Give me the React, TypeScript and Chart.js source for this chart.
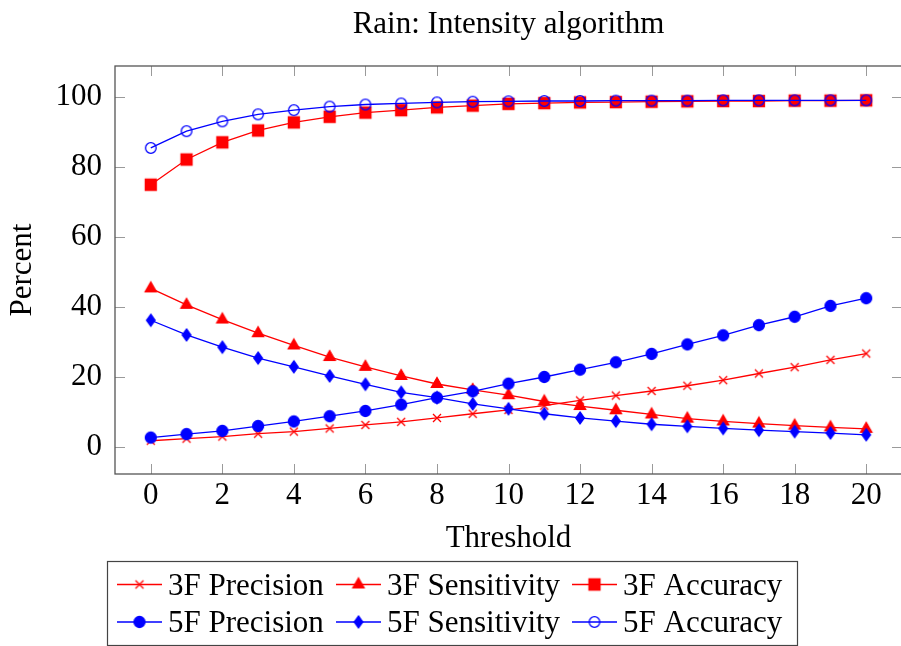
import React, { useEffect, useRef } from 'react';
import { Chart, registerables } from 'chart.js';

Chart.register(...registerables);

const thresholds = [0, 1, 2, 3, 4, 5, 6, 7, 8, 9, 10, 11, 12, 13, 14, 15, 16, 17, 18, 19, 20];
const xTickValues = [0, 2, 4, 6, 8, 10, 12, 14, 16, 18, 20];
const yTickValues = [0, 20, 40, 60, 80, 100];

const precision3F = [1.8, 2.4, 3.0, 3.8, 4.4, 5.3, 6.3, 7.2, 8.3, 9.5, 10.6, 11.8, 13.3, 14.7, 16.0, 17.5, 19.1, 21.0, 22.8, 24.9, 26.7];
const sensitivity3F = [45.3, 40.6, 36.4, 32.5, 29.0, 25.7, 22.9, 20.3, 18.0, 16.3, 14.8, 13.0, 11.7, 10.5, 9.3, 8.1, 7.3, 6.7, 6.1, 5.6, 5.2];
const accuracy3F = [74.9, 82.1, 87.0, 90.4, 92.7, 94.3, 95.5, 96.2, 97.0, 97.5, 98.0, 98.2, 98.4, 98.5, 98.6, 98.7, 98.8, 98.8, 98.9, 98.9, 99.0];
const precision5F = [2.7, 3.7, 4.6, 6.0, 7.3, 8.8, 10.3, 12.1, 14.1, 15.9, 18.1, 20.0, 22.1, 24.2, 26.6, 29.3, 31.9, 34.8, 37.2, 40.3, 42.5];
const sensitivity5F = [36.2, 32.0, 28.5, 25.4, 22.9, 20.3, 17.9, 15.6, 14.1, 12.3, 10.9, 9.5, 8.3, 7.4, 6.5, 5.9, 5.3, 4.8, 4.4, 4.0, 3.5];
const accuracy5F = [85.4, 90.2, 93.0, 95.0, 96.2, 97.2, 97.8, 98.1, 98.4, 98.6, 98.7, 98.8, 98.8, 98.9, 98.9, 98.9, 99.0, 99.0, 99.0, 99.0, 99.0];

const seriesLabels = ['3F Precision', '3F Sensitivity', '3F Accuracy', '5F Precision', '5F Sensitivity', '5F Accuracy'];
const seriesValues = [precision3F, sensitivity3F, accuracy3F, precision5F, sensitivity5F, accuracy5F];
const seriesMarks = ['cross', 'triangle', 'square', 'disc', 'diamond', 'ring'];
const seriesColors = ['#ff0000', '#ff0000', '#ff0000', '#0000ff', '#0000ff', '#0000ff'];

const TITLE = 'Rain: Intensity algorithm';
const X_TITLE = 'Threshold';
const Y_TITLE = 'Percent';
const FONT = "'Liberation Serif', 'Times New Roman', serif";
const FS = 31;

function makeMarker(kind: string, color: string): HTMLCanvasElement {
  const cv = document.createElement('canvas');
  cv.width = 18;
  cv.height = 18;
  const g = cv.getContext('2d')!;
  const c = 9;
  g.fillStyle = color;
  g.strokeStyle = color;
  g.lineWidth = 1.3;
  g.beginPath();
  if (kind === 'cross') {
    g.moveTo(c - 4, c - 4); g.lineTo(c + 4, c + 4);
    g.moveTo(c + 4, c - 4); g.lineTo(c - 4, c + 4);
    g.stroke();
  } else if (kind === 'triangle') {
    const r = 6.5;
    g.moveTo(c, c - r);
    g.lineTo(c + r * 0.866, c + r / 2);
    g.lineTo(c - r * 0.866, c + r / 2);
    g.closePath();
    g.fill(); g.stroke();
  } else if (kind === 'square') {
    g.rect(c - 5.5, c - 5.5, 11, 11);
    g.fill(); g.stroke();
  } else if (kind === 'disc') {
    g.arc(c, c, 5.5, 0, Math.PI * 2);
    g.fill(); g.stroke();
  } else if (kind === 'diamond') {
    g.moveTo(c, c - 6); g.lineTo(c + 4.3, c); g.lineTo(c, c + 6); g.lineTo(c - 4.3, c);
    g.closePath();
    g.fill(); g.stroke();
  } else {
    g.arc(c, c, 5.3, 0, Math.PI * 2);
    g.stroke();
  }
  return cv;
}

export default function App() {
  const ref = useRef<HTMLCanvasElement | null>(null);

  useEffect(() => {
    if (!ref.current) return;
    const markers = seriesMarks.map((m, i) => makeMarker(m, seriesColors[i]));

    const framePlugin = {
      id: 'pgfFrame',
      beforeDatasetsDraw(chart: any) {
        const { ctx, chartArea: a, scales } = chart;
        ctx.save();
        ctx.strokeStyle = '#9a9a9a';
        ctx.lineWidth = 1;
        const tl = 10;
        xTickValues.forEach((v) => {
          const px = Math.round(scales.x.getPixelForValue(v)) + 0.5;
          ctx.beginPath();
          ctx.moveTo(px, a.bottom); ctx.lineTo(px, a.bottom - tl);
          ctx.moveTo(px, a.top); ctx.lineTo(px, a.top + tl);
          ctx.stroke();
        });
        yTickValues.forEach((v) => {
          const py = Math.round(scales.y.getPixelForValue(v)) + 0.5;
          ctx.beginPath();
          ctx.moveTo(a.left, py); ctx.lineTo(a.left + tl, py);
          ctx.moveTo(a.right, py); ctx.lineTo(a.right - tl, py);
          ctx.stroke();
        });
        ctx.strokeStyle = '#555555';
        ctx.lineWidth = 1.3;
        ctx.strokeRect(a.left, a.top, a.right - a.left, a.bottom - a.top);
        ctx.restore();
      },
      afterDraw(chart: any) {
        const { ctx, chartArea: a } = chart;
        ctx.save();
        ctx.fillStyle = '#000';
        ctx.font = `${FS}px ${FONT}`;
        ctx.textAlign = 'center';
        ctx.textBaseline = 'alphabetic';
        ctx.fillText(TITLE, (a.left + a.right) / 2, 33);

        // legend
        const bx = 107.5, by = 561.5, bw = 690, bh = 84;
        ctx.fillStyle = '#fff';
        ctx.fillRect(bx, by, bw, bh);
        ctx.strokeStyle = '#444';
        ctx.lineWidth = 1.2;
        ctx.strokeRect(bx, by, bw, bh);
        const colX = [117, 336, 572];
        const rowY = [584.5, 622];
        ctx.textAlign = 'left';
        seriesLabels.forEach((lab, i) => {
          const col = i % 3;
          const row = Math.floor(i / 3);
          const x0 = colX[col];
          const y0 = rowY[row];
          ctx.strokeStyle = seriesColors[i];
          ctx.lineWidth = 1.3;
          ctx.beginPath();
          ctx.moveTo(x0, y0); ctx.lineTo(x0 + 45, y0);
          ctx.stroke();
          const m = markers[i];
          ctx.drawImage(m, x0 + 22.5 - m.width / 2, y0 - m.height / 2);
          ctx.fillStyle = '#000';
          ctx.fillText(lab, x0 + 51, y0 + 10);
        });
        ctx.restore();
      },
    };

    const datasets = seriesLabels.map((lab, i) => ({
      label: lab,
      data: thresholds.map((t, k) => ({ x: t, y: seriesValues[i][k] })),
      borderColor: seriesColors[i],
      backgroundColor: seriesColors[i],
      borderWidth: 1.3,
      pointStyle: markers[i],
      pointRadius: 6,
      pointHoverRadius: 6,
      tension: 0,
      fill: false,
      order: seriesLabels.length - i,
    }));

    const chart = new Chart(ref.current, {
      type: 'line',
      data: { datasets },
      plugins: [framePlugin],
      options: {
        animation: false,
        responsive: false,
        devicePixelRatio: 1,
        events: [],
        layout: { padding: { left: 0, right: 18, top: 66, bottom: 82 } },
        plugins: { legend: { display: false }, title: { display: false }, tooltip: { enabled: false } },
        scales: {
          x: {
            type: 'linear',
            min: -1,
            max: 21,
            grid: { display: false, drawTicks: false },
            border: { display: false },
            afterBuildTicks: (s: any) => { s.ticks = xTickValues.map((v) => ({ value: v })); },
            afterFit: (s: any) => { s.height = 90; },
            ticks: { color: '#000', font: { family: FONT, size: FS }, padding: 3, maxRotation: 0, autoSkip: false },
            title: { display: true, text: X_TITLE, color: '#000', font: { family: FONT, size: FS }, padding: { top: 0, bottom: 7 } },
          },
          y: {
            type: 'linear',
            min: -7.7,
            max: 108.8,
            grid: { display: false, drawTicks: false },
            border: { display: false },
            afterBuildTicks: (s: any) => { s.ticks = yTickValues.map((v) => ({ value: v })); },
            afterFit: (s: any) => { s.width = 115; },
            ticks: { color: '#000', font: { family: FONT, size: FS }, padding: 13 },
            title: { display: true, text: Y_TITLE, color: '#000', font: { family: FONT, size: FS }, padding: { top: 4, bottom: 0 } },
          },
        },
      },
    });
    return () => chart.destroy();
  }, []);

  return (
    <div style={{ position: 'fixed', left: 0, top: 0, width: 901, height: 646, overflow: 'hidden', background: '#fff' }}>
      <canvas ref={ref} width={920} height={646} style={{ display: 'block', width: 920, height: 646 }} />
    </div>
  );
}
